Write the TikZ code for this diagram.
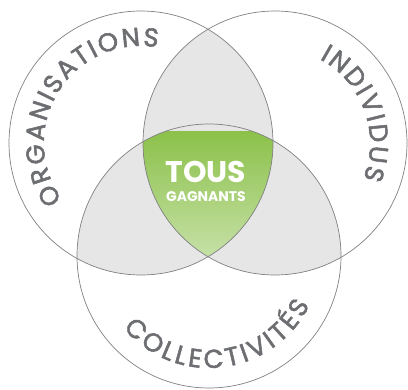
\documentclass[tikz,border=0pt]{standalone}
\usepackage{fontspec}
\setmainfont{Poppins}
\newfontfamily\labelfam{Poppins}[FakeBold=2]
\usetikzlibrary{decorations.text}
\definecolor{lensgray}{HTML}{E6E6E6}
\definecolor{linegray}{HTML}{808080}
\definecolor{labelgray}{HTML}{6D6E71}
\definecolor{wingreen}{HTML}{8CC14A}
\definecolor{winlight}{HTML}{C6E1A8}
\newcommand{\labelfont}{\labelfam\fontsize{26}{30}\selectfont}
\begin{document}
\begin{tikzpicture}[x=1bp,y=1bp,
  ring/.style={draw=linegray,line width=0.7bp},
  arclabel/.style={decorate,decoration={text along path,text align=fit to path,text color=labelgray,text={#1}}}]
\useasboundingbox (0,0) rectangle (408,390);
\coordinate (org) at (141,247);
\coordinate (ind) at (275,247);
\coordinate (col) at (209,134);
\def\rad{132}

% two by two overlaps
\foreach \p/\q in {org/ind,org/col,ind/col} {
  \begin{scope}
    \clip (\p) circle (\rad);
    \fill[lensgray] (\q) circle (\rad);
  \end{scope}
}
% middle: all three
\begin{scope}
  \clip (org) circle (\rad);
  \clip (ind) circle (\rad);
  \clip (col) circle (\rad);
  \shade[top color=wingreen,middle color=wingreen,bottom color=winlight] (130,132) rectangle (290,258);
\end{scope}
\foreach \c in {org,ind,col} {
  \draw[ring] (\c) circle (\rad);
}

% labels on the rings
\begin{scope}
  \labelfont
  \path[arclabel=ORGANISATIONS] (org) ++(216:97) arc (216:80:97);
  \path[arclabel=INDIVIDUS] (ind) ++(62:95) arc (62:-22:95);
  \path[arclabel=COLLECTIVITÉS] (col) ++(220:112) arc (220:334:112);
\end{scope}

\node[anchor=base,text=white,font=\bfseries\fontsize{30}{32}\selectfont] (tous) at (206,208) {TOUS};
\node[anchor=base,text=white,font=\bfseries\fontsize{14}{16}\selectfont] (gagnants) at (206,188.5) {GAGNANTS};
\end{tikzpicture}
\end{document}
